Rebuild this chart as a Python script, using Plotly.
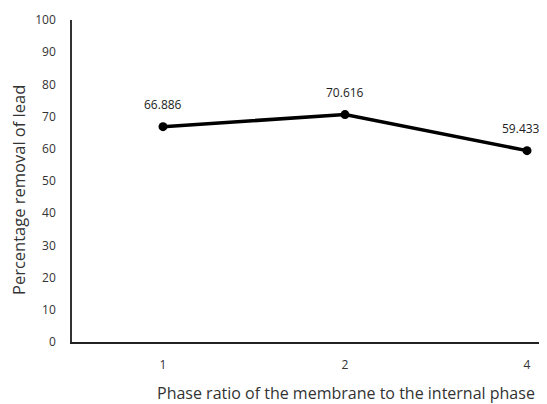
import plotly.graph_objects as go

categories = ["1", "2", "4"]
removal = [66.886, 70.616, 59.433]
labels = ["66.886", "70.616", "59.433"]
y_ticks = [0, 10, 20, 30, 40, 50, 60, 70, 80, 90, 100]

# page has an 8px body margin; plot area target: x 72..(beyond 547), y 20..342
OFF = 8
L, T = 72 - OFF, 20 - OFF
PW = 547 - L          # plot width inside figure (r=0)
PH = 342 - 20
B = 404 - T - PH

fig = go.Figure()
fig.add_trace(go.Scatter(
    x=categories, y=removal, mode="lines+markers",
    line=dict(color="black", width=3.5),
    marker=dict(color="black", size=9),
    cliponaxis=False, showlegend=False,
))

label_shifts = [0, 0, -6]
for i, (val, lab, sh) in enumerate(zip(removal, labels, label_shifts)):
    fig.add_annotation(x=i, y=val, xref="x", yref="y", text=lab, showarrow=False,
                       xanchor="center", yanchor="bottom", yshift=12, xshift=sh,
                       font=dict(family="Open Sans", size=12, color="#222"))

def px_x(x):
    return (x - 72) / PW

def px_y(y):
    return (342 - y) / PH

fig.update_layout(
    width=547, height=404,
    margin=dict(l=L, r=0, t=T, b=B),
    paper_bgcolor="white", plot_bgcolor="white",
    font=dict(family="Open Sans", size=12, color="#333"),
    xaxis=dict(type="category", range=[-0.5, -0.5 + PW / 182], showgrid=False,
               showline=True, linecolor="#222", linewidth=2,
               ticks="", ticklabelstandoff=11, zeroline=False,
               tickfont=dict(size=12)),
    yaxis=dict(range=[0, 100], tickvals=y_ticks, showgrid=False,
               showline=True, linecolor="#333", linewidth=1.5,
               ticks="", ticklabelstandoff=12, zeroline=False,
               tickfont=dict(size=12)),
)
fig.add_annotation(text="Phase ratio of the membrane to the internal phase",
                   x=px_x(346), y=px_y(393), xref="paper", yref="paper",
                   xanchor="center", yanchor="middle", showarrow=False,
                   font=dict(size=16, color="#333"))
fig.add_annotation(text="Percentage removal of lead", x=px_x(18), y=px_y(190),
                   xref="paper", yref="paper", xanchor="center", yanchor="middle",
                   showarrow=False, textangle=-90,
                   font=dict(size=16.5, color="#333"))
fig.write_html("out.html")
